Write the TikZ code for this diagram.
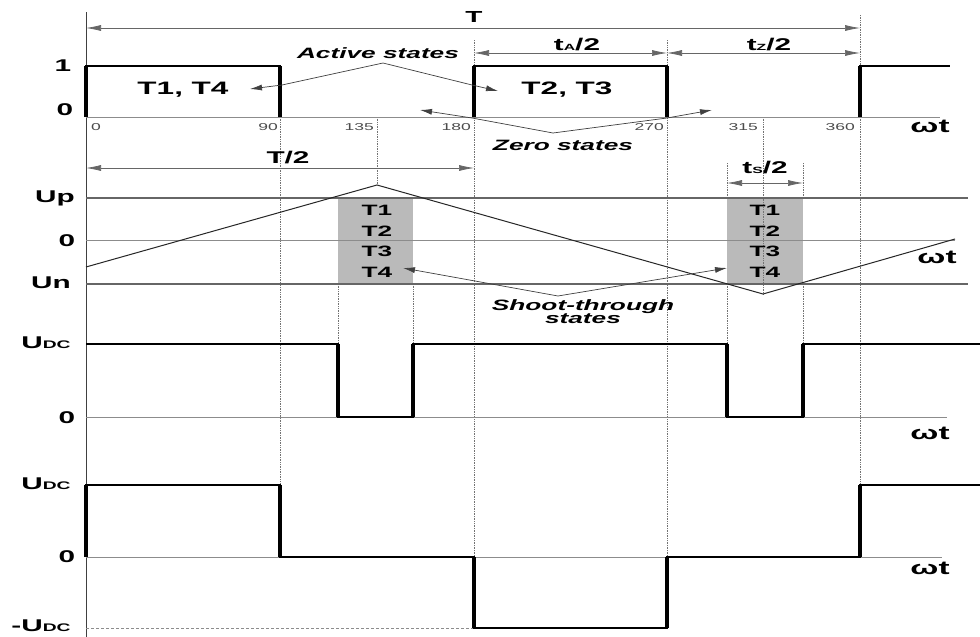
\documentclass[tikz,border=0pt]{standalone}
\usepackage{fontspec}
\setmainfont{Liberation Sans}[FakeStretch=1.75]
\usetikzlibrary{arrows.meta}
\newcommand{\udc}{U{\fontsize{11}{11}\selectfont DC}}
\begin{document}
\begin{tikzpicture}[x=1pt,y=-1pt,
  ax/.style={line width=0.8pt, black!75},
  lvl/.style={line width=0.6pt, black!45},
  ref/.style={line width=1.3pt, black!60},
  vdot/.style={line width=0.7pt, black!55, densely dotted},
  wave/.style={line width=2.6pt, black, line join=miter},
  edge/.style={line width=4.6pt, black},
  dim/.style={line width=0.7pt, black!60, {Latex[length=15pt,width=6pt]}-{Latex[length=15pt,width=6pt]}},
  lead/.style={line width=0.7pt, black!75},
  tipL/.style={-{Latex[length=12pt,width=6pt]}},
  lab/.style={font=\fontsize{17}{18}\selectfont\bfseries, inner sep=0pt},
  big/.style={font=\fontsize{18}{19}\selectfont\bfseries, inner sep=0pt},
  tst/.style={font=\fontsize{15}{16}\selectfont\bfseries, inner sep=0pt},
  tick/.style={font=\fontsize{10}{11}\selectfont, inner sep=0pt, black!70},
  ital/.style={font=\fontsize{15}{16}\selectfont\bfseries\itshape, inner sep=0pt, align=center},
  wt/.style={font=\fontsize{19}{20}\selectfont\bfseries, inner sep=0pt},
  stbox/.style={fill=black!27, draw=none},
]
\useasboundingbox (0,0) rectangle (980,637);
\fill[white] (0,0) rectangle (980,637);

% shoot-through boxes
\fill[stbox] (338,198) rectangle (413,284);
\fill[stbox] (727,198) rectangle (803,284);

% dotted verticals
\draw[vdot] (280,117) -- (280,485);
\draw[vdot] (377,117) -- (377,185);
\draw[vdot] (474,40) -- (474,557);
\draw[vdot] (667,40) -- (667,557);
\draw[vdot] (763,117) -- (763,294);
\draw[vdot] (860,15) -- (860,485);
\draw[vdot] (338,284) -- (338,344);
\draw[vdot] (413,284) -- (413,344);
\draw[vdot] (727,163) -- (727,198);
\draw[vdot] (803,163) -- (803,198);
\draw[vdot] (727,284) -- (727,344);
\draw[vdot] (803,284) -- (803,344);

% main axis
\draw[ax] (86,12) -- (86,637);

% ---------- top panel ----------
\draw[lvl] (86,117) -- (940,117);
\draw[wave] (86,117) -- (86,66) -- (280,66) -- (280,117);
\draw[wave] (474,117) -- (474,66) -- (667,66) -- (667,117);
\draw[wave] (860,117) -- (860,66) -- (950,66);
\foreach \x in {86,280,474,667,860} \draw[edge] (\x,117) -- (\x,66);

\node[lab] (one) at (63,66) {1};
\node[lab] (zeroA) at (65,110) {0};
\node[tick, anchor=west] (t0) at (91,127) {0};
\node[tick, anchor=east] (t90) at (278,127) {90};
\node[tick, anchor=east] (t135) at (374,127) {135};
\node[tick, anchor=east] (t180) at (471,127) {180};
\node[tick, anchor=east] (t270) at (664,127) {270};
\node[tick, anchor=east] (t315) at (758,127) {315};
\node[tick, anchor=east] (t360) at (855,127) {360};
\node[wt] (wtA) at (930,126) {ωt};

\coordinate (Tl) at (86,28);
\coordinate (Tr) at (860,28);
\draw[dim] (Tl) -- (Tr);
\node[lab, font=\fontsize{16}{17}\selectfont\bfseries] (Tlab) at (474,17) {T};

\coordinate (Al) at (474,53);
\coordinate (Am) at (667,53);
\coordinate (Ar) at (860,53);
\draw[dim] (Al) -- (Am);
\draw[dim] (Am) -- (Ar);
\node[lab] (tA) at (577,45) {t{\fontsize{9}{9}\selectfont A}/2};
\node[lab] (tZ) at (769,45) {t{\fontsize{9}{9}\selectfont Z}/2};

\node[big] (T14) at (183,90) {T1, T4};
\node[big] (T23) at (567,90) {T2, T3};
\node[ital] (act) at (378,53) {Active states};
\coordinate (actA) at (383,63);
\coordinate (a14) at (250,89);
\coordinate (a23) at (498,91);
\draw[lead, tipL] (actA) -- (282,85) -- (a14);
\draw[lead, tipL] (actA) -- (472,85) -- (a23);

\node[ital] (zero) at (563,145) {Zero states};
\coordinate (zA) at (553,133);
\draw[lead, tipL] (zA) -- (472,118) -- (420,110);
\draw[lead, tipL] (zA) -- (667,118) -- (712,110);

% ---------- triangle panel ----------
\coordinate (Hl) at (86,168);
\coordinate (Hr) at (474,168);
\draw[dim] (Hl) -- (Hr);
\node[lab] (T2lab) at (288,158) {T/2};

\draw[ref] (86,198) -- (968,198);
\draw[lvl] (86,240) -- (955,240);
\draw[ref] (86,284) -- (968,284);
\node[lab] (Up) at (55,198) {Up};
\node[lab] (zeroB) at (67,241) {0};
\node[lab] (Un) at (51,283) {Un};

\draw[line width=1pt, black!85] (86,267) -- (377,185) -- (763,294) -- (955,239);
\node[wt] (wtB) at (937,257) {ωt};

\foreach \y/\t in {210/T1,231/T2,251/T3,272/T4} {
  \node[tst] at (377,\y) {\t};
  \node[tst] at (765,\y) {\t};
}
\coordinate (s4a) at (403,268);
\coordinate (s4b) at (727,268);

\draw[dim] (727,183) -- (803,183);
\node[lab] (ts) at (765,168) {t{\fontsize{9}{9}\selectfont S}/2};

\node[ital] (shoot) at (583,312) {Shoot-through\\[-3pt]states};
\coordinate (sA) at (558,296);
\draw[lead, tipL] (sA) -- (s4a);
\draw[lead, tipL] (sA) -- (s4b);

% ---------- third panel ----------
\draw[lvl] (86,417) -- (947,417);
\draw[wave] (86,344) -- (338,344) -- (338,417) -- (413,417) -- (413,344) -- (727,344) -- (727,417) -- (803,417) -- (803,344) -- (980,344);
\foreach \x in {338,413,727,803} \draw[edge] (\x,344) -- (\x,417);
\node[lab] (udcA) at (46,343) {\udc};
\node[lab] (zeroC) at (67,418) {0};
\node[wt] (wtC) at (930,433) {ωt};

% ---------- fourth panel ----------
\draw[lvl] (86,557) -- (942,557);
\draw[lvl, densely dashed] (86,628) -- (474,628);
\draw[wave] (86,557) -- (86,485) -- (280,485) -- (280,557) -- (474,557) -- (474,628) -- (667,628) -- (667,557) -- (860,557) -- (860,485) -- (980,485);
\draw[edge] (86,557) -- (86,485);
\draw[edge] (280,485) -- (280,557);
\draw[edge] (474,557) -- (474,628);
\draw[edge] (667,628) -- (667,557);
\draw[edge] (860,557) -- (860,485);
\node[lab] (udcB) at (46,484) {\udc};
\node[lab] (zeroD) at (67,557) {0};
\node[lab] (udcC) at (41,626) {-\udc};
\node[wt] (wtD) at (930,568) {ωt};
\end{tikzpicture}
\end{document}
